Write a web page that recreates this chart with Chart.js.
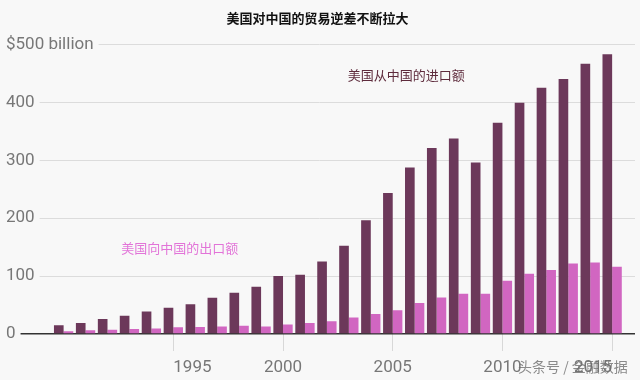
<!DOCTYPE html>
<html><head><meta charset="utf-8">
<script src="https://cdn.jsdelivr.net/npm/chart.js@4"></script>
<style>
html,body{margin:0;padding:0;background:#f8f8f8;}
#wrap{width:640px;height:380px;}
</style></head>
<body><div id="wrap"><canvas id="c" width="640" height="380"></canvas></div>
<script>
const titleText = '美国对中国的贸易逆差不断拉大';
const years = [1990,1991,1992,1993,1994,1995,1996,1997,1998,1999,2000,2001,2002,2003,2004,2005,2006,2007,2008,2009,2010,2011,2012,2013,2014,2015];
const importsFromChina = [15.2,19.0,25.7,31.5,38.8,45.5,51.5,62.6,71.2,81.8,100.0,102.3,125.2,152.4,196.7,243.5,287.8,321.4,337.8,296.4,364.9,399.4,425.6,440.4,466.8,483.2];
const exportsToChina = [4.8,6.3,7.4,8.8,9.3,11.8,12.0,12.9,14.2,13.1,16.2,19.2,22.1,28.4,34.4,41.2,53.7,62.9,69.7,69.5,91.9,104.1,110.5,121.7,123.7,116.1];
const seriesNames = ['美国从中国的进口额','美国向中国的出口额'];
const xTicks = [1995,2000,2005,2010,2015];
const yTicks = [0,100,200,300,400,500];
const yTickLabels = ['0','100','200','300','400','$500 billion'];
const watermark = '头条号 / 金融数据';

const BG = '#f8f8f8';
const DARK = '#6c385a';
const PINK = '#d166c1';

const annot = {
  id:'annot',
  afterDraw(chart){
    const {ctx, scales:{x,y}} = chart;
    ctx.save();
    ctx.font = '13px "Noto Sans CJK SC"';
    ctx.textBaseline = 'middle';
    ctx.textAlign = 'left';
    ctx.fillStyle = '#5e2b3c';
    ctx.fillText(seriesNames[0], x.getPixelForValue(2002.95), y.getPixelForValue(448));
    ctx.fillStyle = '#e274d8';
    ctx.fillText(seriesNames[1], x.getPixelForValue(1992.63), y.getPixelForValue(148));
    ctx.font = '14px "Noto Sans CJK SC"';
    ctx.fillStyle = 'rgba(110,110,110,0.8)';
    ctx.fillText(watermark, 518, 367);
    ctx.restore();
  }
};
const bgPlugin = {
  id:'bg',
  beforeDraw(chart){ const c=chart.ctx; c.save(); c.fillStyle=BG; c.fillRect(0,0,chart.width,chart.height); c.restore(); }
};

new Chart(document.getElementById('c'), {
  type:'bar',
  data:{
    datasets:[
      {label:seriesNames[0], data:years.map((yr,i)=>({x:yr,y:importsFromChina[i]})), backgroundColor:DARK, categoryPercentage:0.88, barPercentage:1.0},
      {label:seriesNames[1], data:years.map((yr,i)=>({x:yr,y:exportsToChina[i]})), backgroundColor:PINK, categoryPercentage:0.88, barPercentage:1.0}
    ]
  },
  options:{
    responsive:false, animation:false,
    layout:{padding:{left:0,right:5,top:0,bottom:4}},
    plugins:{
      legend:{display:false}, tooltip:{enabled:false},
      title:{display:true, text:titleText, color:'#111', font:{family:'"Noto Sans CJK SC"', size:13, weight:'bold'}, padding:{top:10,bottom:19}}
    },
    scales:{
      x:{
        type:'linear', min:1987.283, max:2016.042, offset:false,
        afterBuildTicks:s=>{ s.ticks = xTicks.map(v=>({value:v})); },
        afterFit:s=>{ s.height = 42; },
        ticks:{align:'inner', color:'#777', font:{family:'Roboto', size:17, lineHeight:1}, padding:8, maxRotation:0, autoSkip:false, callback:v=>String(v)},
        grid:{offset:false, drawOnChartArea:false, drawTicks:true, tickLength:17, color:'#d8d8d8'},
        border:{display:false}
      },
      y:{
        min:0, max:500,
        afterBuildTicks:s=>{ s.ticks = yTicks.map(v=>({value:v})); },
        ticks:{mirror:true, padding:2, z:1, color:'#777', font:{family:'Roboto', size:17},
          callback:(v)=> yTickLabels[yTicks.indexOf(v)],
          showLabelBackdrop:true, backdropColor:BG, backdropPadding:{left:2,right:5,top:1,bottom:1}},
        grid:{drawTicks:false, color:c=> c.tick && c.tick.value===0 ? '#333' : '#dcdcdc', lineWidth:c=> c.tick && c.tick.value===0 ? 1.5 : 1},
        border:{display:false}
      }
    }
  },
  plugins:[bgPlugin, annot]
});
</script></body></html>
